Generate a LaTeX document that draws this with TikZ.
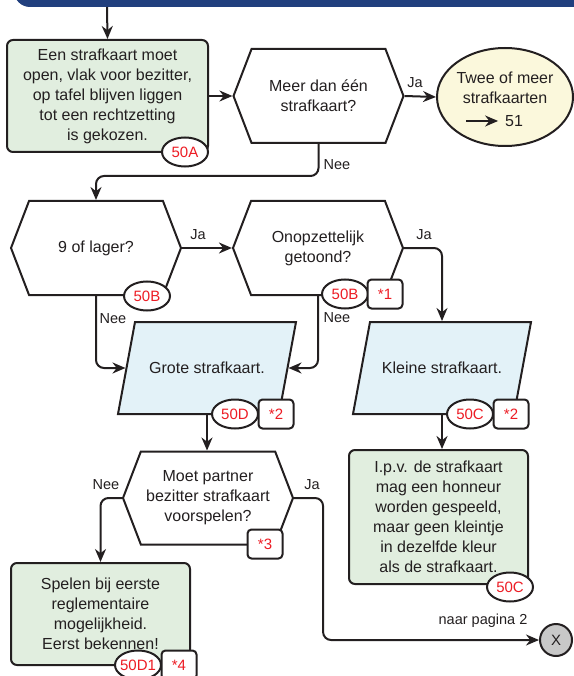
\documentclass[tikz,border=0pt]{standalone}
\usepackage{fontspec}
\setmainfont{Liberation Sans}
\usetikzlibrary{arrows.meta,shapes.geometric,shapes.symbols}
\definecolor{bannerblue}{RGB}{33,63,126}
\definecolor{notegreen}{RGB}{225,238,223}
\definecolor{cardblue}{RGB}{227,242,248}
\definecolor{endyellow}{RGB}{251,248,220}
\definecolor{inkgray}{RGB}{35,31,32}
\definecolor{refred}{RGB}{237,28,36}
\definecolor{exitgray}{RGB}{200,200,200}
\begin{document}
\begin{tikzpicture}[x=1pt,y=-1pt,line width=2pt,draw=inkgray,text=inkgray,
  font=\fontsize{16}{20}\selectfont,
  flow/.style={-{Stealth[length=13pt,width=11pt]},rounded corners=8pt},
  action/.style={draw,fill=notegreen,rounded corners=6pt,align=center,inner sep=0pt},
  question/.style={draw,fill=white,shape=signal,signal to=west and east,
    signal pointer angle=138,minimum width=170pt,minimum height=94pt,align=center,inner sep=0pt},
  penalty/.style={draw,fill=cardblue,trapezium,trapezium left angle=79.5,trapezium right angle=100.5,
    trapezium stretches body=true,minimum width=178pt,minimum height=92pt,inner xsep=0pt,inner ysep=40pt},
  rulenr/.style={draw,fill=white,ellipse,minimum width=46pt,minimum height=29pt,
    inner xsep=-2pt,inner ysep=0pt,text=refred,font=\fontsize{15}{18}\selectfont},
  footnr/.style={draw,fill=white,rounded corners=4pt,minimum width=35pt,minimum height=29pt,
    inner sep=0pt,text=refred,font=\fontsize{15}{18}\selectfont},
  answer/.style={inner sep=0pt,font=\fontsize{14.5}{17}\selectfont}]
  \useasboundingbox (0,0) rectangle (573,676);
  \fill[bannerblue,rounded corners=16pt] (14,-40) rectangle (620,7);
  \coordinate (bannerfoot) at (107,7);
  \node[action,minimum width=201pt,minimum height=112pt] (strafopen) at (107.5,96)
    {Een strafkaart moet\\open, vlak voor bezitter,\\op tafel blijven liggen\\tot een rechtzetting\\is gekozen.};
  \node[question] (meerdan) at (318.5,96) {Meer dan één\\strafkaart?};
  \node[ellipse,draw,fill=endyellow,minimum width=136pt,minimum height=98pt] (tweemeer) at (505,97) {};
  \node[align=center,inner sep=0pt] (tweetext) at (505,88) {Twee of meer\\strafkaarten};
  \node[inner sep=0pt] (naar51) at (514,121) {51};
  \coordinate (pijl51) at (466,121);
  \node[question] (lager) at (96,248) {9 of lager?};
  \node[question] (opzet) at (318,248) {Onopzettelijk\\getoond?};
  \node[penalty] (grote) at (207,368) {Grote strafkaart.};
  \node[penalty] (kleine) at (442,368) {Kleine strafkaart.};
  \node[question,minimum height=93pt] (moet) at (208,498) {Moet partner\\bezitter strafkaart\\voorspelen?};
  \node[action,minimum width=179pt,minimum height=134pt] (ipv) at (438.5,517)
    {I.p.v. de strafkaart\\mag een honneur\\worden gespeeld,\\maar geen kleintje\\in dezelfde kleur\\als de strafkaart.};
  \node[action,minimum width=179pt,minimum height=102pt] (spelen) at (100.5,614)
    {Spelen bij eerste\\reglementaire\\mogelijkheid.\\Eerst bekennen!};
  \node[circle,draw,fill=exitgray,minimum size=32pt,inner sep=0pt,font=\fontsize{15}{18}\selectfont] (pagina2) at (556,640) {X};
  \draw[flow] (bannerfoot) -- (strafopen.north);
  \draw[flow] (strafopen.east) -- (meerdan.west);
  \draw[flow] (meerdan.east) -- (tweemeer.west);
  \draw[flow,shorten >=6pt] (pijl51) -- (naar51.west);
  \draw[flow] (meerdan.south) -- ++(0,32) -| (lager.north);
  \draw[flow] (lager.east) -- (opzet.west);
  \draw[flow] (opzet.east) -| (kleine.north);
  \draw[flow] (lager.south) |- (grote.west);
  \draw[flow] (opzet.south) |- (grote.east);
  \draw[flow] (grote.south) -- (grote.south |- moet.north);
  \draw[flow] (kleine.south) -- (kleine.south |- ipv.north);
  \draw[flow] (moet.west) -| (spelen.north);
  \draw[flow] (moet.east) -- ++(29,0) |- (pagina2.west);
  \node[answer] (ja1) at (415,83) {Ja};
  \node[answer] (nee1) at (337,165) {Nee};
  \node[answer] (ja2) at (198,235) {Ja};
  \node[answer] (ja3) at (424,235) {Ja};
  \node[answer] (nee2) at (113,319) {Nee};
  \node[answer] (nee3) at (337,318) {Nee};
  \node[answer] (nee4) at (106,485) {Nee};
  \node[answer] (ja4) at (312,485) {Ja};
  \node[answer] (naarp2) at (483,621) {naar pagina 2};
  \node[rulenr] (tag50A) at (185,152) {50A};
  \node[rulenr] (tag50Blager) at (147,296) {50B};
  \node[rulenr] (tag50Bopzet) at (345,294) {50B};
  \node[footnr] (foot1) at (385,294) {*1};
  \node[rulenr] (tag50D) at (235,414) {50D};
  \node[footnr] (foot2grote) at (276,414) {*2};
  \node[rulenr] (tag50Ckleine) at (470,414) {50C};
  \node[footnr] (foot2kleine) at (511,414) {*2};
  \node[footnr] (foot3) at (265,544) {*3};
  \node[rulenr] (tag50C) at (510,587) {50C};
  \node[rulenr] (tag50D1) at (138,665) {50D1};
  \node[footnr] (foot4) at (179,665) {*4};
\end{tikzpicture}
\end{document}
